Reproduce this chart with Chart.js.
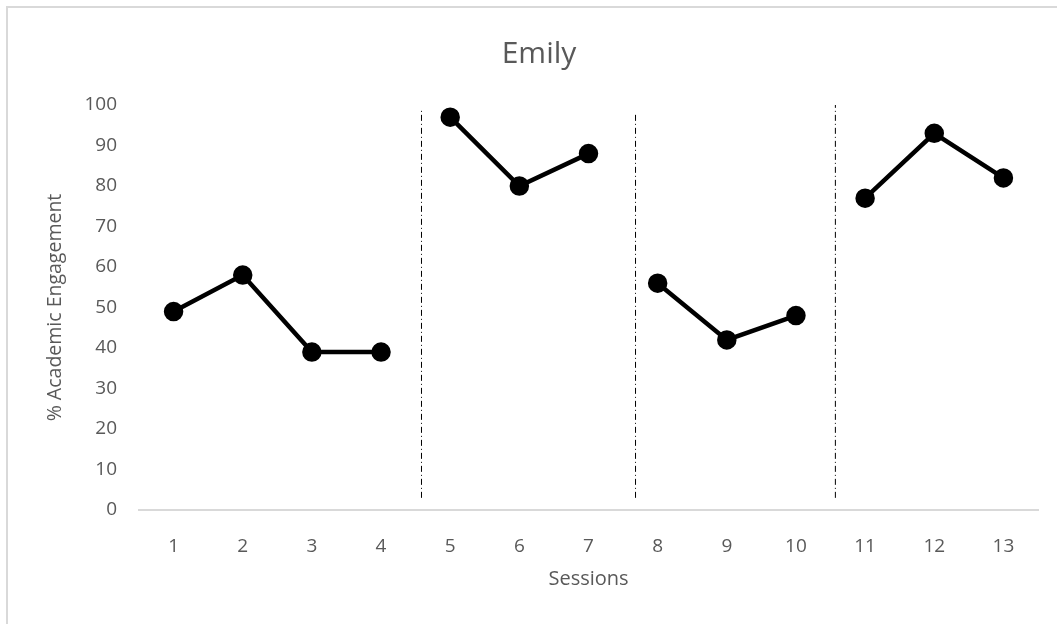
<!DOCTYPE html>
<html>
<head>
<meta charset="utf-8">
<script src="https://cdn.jsdelivr.net/npm/chart.js@4.4.0/dist/chart.umd.min.js"></script>
<style>
    html, body { margin: 0; padding: 0; background: #fff; overflow: hidden; }
    #wrap { position: relative; width: 1057px; height: 624px; }
    #frame { position: absolute; left: 6px; top: 6px; width: 1200px; height: 800px; border: 2px solid #d9d9d9; box-sizing: border-box; }
    canvas { position: absolute; left: 0; top: 0; }
</style>
</head>
<body>
<div id="wrap">
    <div id="frame"></div>
    <canvas id="chart" width="1057" height="624"></canvas>
</div>
<script>
    const sessions = [1, 2, 3, 4, 5, 6, 7, 8, 9, 10, 11, 12, 13];
    const engagement = [49, 58, 39, 39, 97, 80, 88, 56, 42, 48, 77, 93, 82];
    // last session of each phase (line is broken after these)
    const phaseEnds = [4, 7, 10];
    // phase change lines, in session units, with their top and bottom values
    const phaseLines = [
        { x: 4.585, from: 3, to: 98.7 },
        { x: 7.68, from: 3, to: 97.7 },
        { x: 10.57, from: 3, to: 100 }
    ];
    const yTicks = [0, 10, 20, 30, 40, 50, 60, 70, 80, 90, 100];

    const grey = '#595959';
    const font = "'Open Sans', 'Liberation Sans', sans-serif";

    const points = [];
    sessions.forEach((s, i) => {
        points.push({ x: s, y: engagement[i] });
        if (phaseEnds.includes(s)) points.push({ x: s + 0.5, y: null });
    });

    const datasets = [{
        data: points,
        borderColor: '#000',
        backgroundColor: '#000',
        borderWidth: 4.5,
        pointRadius: 7.5,
        pointHoverRadius: 7.5,
        spanGaps: false,
        tension: 0
    }];

    phaseLines.forEach(line => {
        datasets.push({
            data: [{ x: line.x, y: line.from }, { x: line.x, y: line.to }],
            borderColor: '#000',
            borderWidth: 1,
            borderDash: [6, 3, 1, 3],
            pointRadius: 0,
            pointHoverRadius: 0
        });
    });

    new Chart(document.getElementById('chart'), {
        type: 'line',
        data: { datasets: datasets },
        options: {
            responsive: false,
            animation: false,
            layout: { padding: { left: 40, right: 19, top: 0, bottom: 33 } },
            plugins: {
                legend: { display: false },
                tooltip: { enabled: false },
                title: {
                    display: true,
                    text: 'Emily',
                    color: grey,
                    font: { family: font, size: 30, weight: 'normal' },
                    padding: { top: 36, bottom: 33 }
                }
            },
            scales: {
                x: {
                    type: 'linear',
                    min: 0.5,
                    max: 13.5,
                    afterBuildTicks: scale => {
                        scale.ticks = sessions.map(v => ({ value: v }));
                    },
                    afterFit: scale => { scale.height = 81; },
                    grid: { display: false, drawTicks: false },
                    border: { display: true, color: '#d9d9d9', width: 2 },
                    ticks: {
                        color: grey,
                        padding: 25,
                        font: { family: font, size: 19 },
                        callback: v => String(v)
                    },
                    title: {
                        display: true,
                        text: 'Sessions',
                        color: grey,
                        font: { family: font, size: 20 },
                        padding: { top: 10, bottom: 0 }
                    }
                },
                y: {
                    min: 0,
                    max: 100,
                    afterBuildTicks: scale => {
                        scale.ticks = yTicks.map(v => ({ value: v }));
                    },
                    afterFit: scale => { scale.width = 99; },
                    grid: { display: false, drawTicks: false },
                    border: { display: false },
                    ticks: {
                        color: grey,
                        padding: 22,
                        font: { family: font, size: 19 }
                    },
                    title: {
                        display: true,
                        text: '% Academic Engagement',
                        color: grey,
                        font: { family: font, size: 19.5 },
                        padding: { top: 4, bottom: 4 }
                    }
                }
            }
        }
    });
</script>
</body>
</html>
